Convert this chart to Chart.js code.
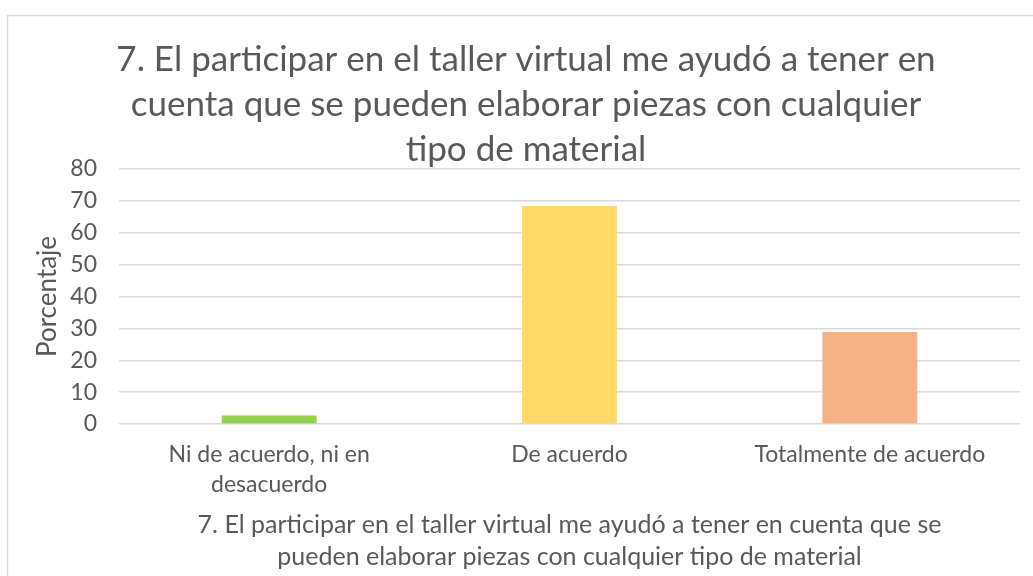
<!DOCTYPE html>
<html>
<head>
<meta charset="utf-8">
<script src="https://cdn.jsdelivr.net/npm/chart.js@4/dist/chart.umd.min.js"></script>
<style>
  html, body { margin: 0; padding: 0; background: #fff; }
  #wrap { width: 1033px; height: 576px; }
</style>
</head>
<body>
<div id="wrap"><canvas id="chart" width="1033" height="576"></canvas></div>
<script>
const categories = [
  ["Ni de acuerdo, ni en", "desacuerdo"],
  "De acuerdo",
  "Totalmente de acuerdo"
];
const percentages = [2.7, 68.4, 28.9];
const barColors = ["#92D050", "#FFD966", "#F4B183"];
const chartTitle = [
  "7. El participar en el taller virtual me ayudó a tener en",
  "cuenta que se pueden elaborar piezas con cualquier",
  "tipo de material"
];
const xTitle = [
  "7. El participar en el taller virtual me ayudó a tener en cuenta que se",
  "pueden elaborar piezas con cualquier tipo de material"
];
const yTitle = "Porcentaje";

const textColor = "#595959";
const gridColor = "#d9d9d9";
const fontFamily = "Lato, 'Open Sans', sans-serif";

// white background + light frame like the office chart box
const frame = {
  id: "frame",
  afterLayout(chart) {
    // the chart box runs past the right edge, so the title sits a bit right of the plot centre
    chart.titleBlock.left = 19;
    chart.titleBlock.right = chart.width;
  },
  beforeDraw(chart) {
    const ctx = chart.ctx;
    ctx.save();
    ctx.fillStyle = "#fff";
    ctx.fillRect(0, 0, chart.width, chart.height);
    ctx.strokeStyle = gridColor;
    ctx.lineWidth = 1.5;
    ctx.strokeRect(7.5, 15.5, chart.width + 20, chart.height + 20);
    ctx.restore();
  }
};

new Chart(document.getElementById("chart"), {
  type: "bar",
  data: {
    labels: categories,
    datasets: [{
      data: percentages,
      backgroundColor: barColors,
      barPercentage: 0.316,
      categoryPercentage: 1
    }]
  },
  options: {
    responsive: false,
    animation: false,
    layout: { padding: { left: 0, right: 13, top: 0, bottom: 0 } },
    plugins: {
      legend: { display: false },
      tooltip: { enabled: false },
      title: {
        display: true,
        text: chartTitle,
        color: textColor,
        font: { family: fontFamily, size: 35, weight: "normal", lineHeight: "45px" },
        padding: { top: 37.5, bottom: -3.5 }
      }
    },
    scales: {
      x: {
        grid: { display: false },
        border: { display: false },
        ticks: {
          color: textColor,
          font: { family: fontFamily, size: 23, lineHeight: "30px" },
          padding: 8,
          maxRotation: 0,
          autoSkip: false
        },
        title: {
          display: true,
          text: xTitle,
          color: textColor,
          font: { family: fontFamily, size: 25, lineHeight: "32px" },
          padding: { top: 0, bottom: 3 }
        },
        afterFit(scale) { scale.height = 152; }
      },
      y: {
        min: 0,
        max: 80,
        ticks: {
          stepSize: 10,
          color: textColor,
          font: { family: fontFamily, size: 23 },
          padding: 22
        },
        grid: { color: gridColor, lineWidth: 1.5, drawTicks: false },
        border: { display: false },
        title: {
          display: true,
          text: yTitle,
          color: textColor,
          font: { family: fontFamily, size: 26, lineHeight: "32px" },
          padding: { top: 32, bottom: 0 }
        },
        afterFit(scale) { scale.width = 119; }
      }
    }
  },
  plugins: [frame]
});
</script>
</body>
</html>
